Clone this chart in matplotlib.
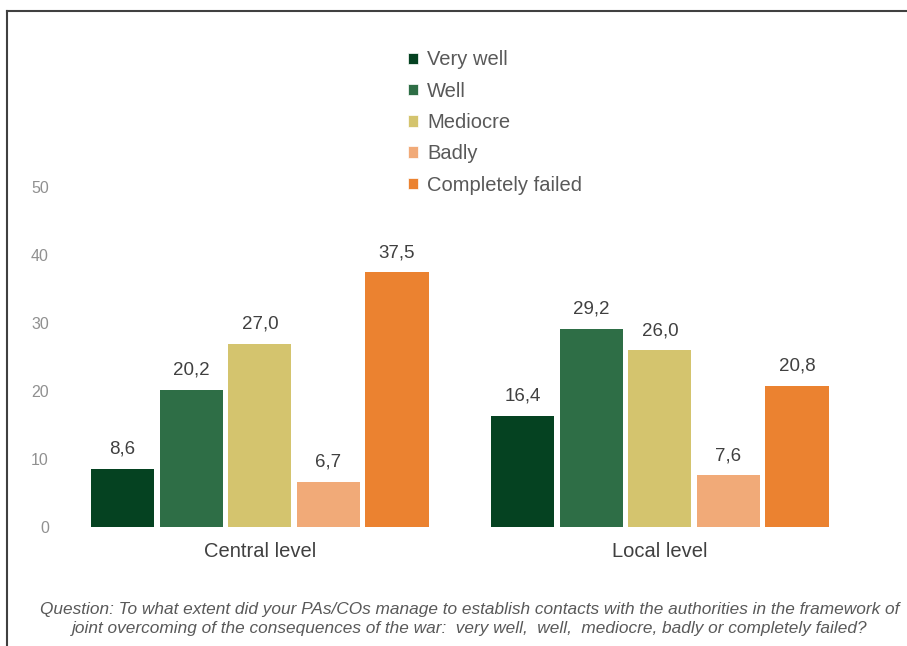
import matplotlib.pyplot as plt
import numpy as np
from matplotlib.patches import Patch
from matplotlib.lines import Line2D

groups = ['Central level', 'Local level']
answers = ['Very well', 'Well', 'Mediocre', 'Badly', 'Completely failed']
values = {
    'Very well': [8.6, 16.4],
    'Well': [20.2, 29.2],
    'Mediocre': [27.0, 26.0],
    'Badly': [6.7, 7.6],
    'Completely failed': [37.5, 20.8],
}
colors = ['#054221', '#2E6E46', '#D4C46E', '#F1AA78', '#EB8230']
yticks = [0, 10, 20, 30, 40, 50]
caption = ('Question: To what extent did your PAs/COs manage to establish contacts with the authorities in the framework of\n'
           'joint overcoming of the consequences of the war:  very well,  well,  mediocre, badly or completely failed?')

plt.rcParams['font.family'] = ['Liberation Sans', 'DejaVu Sans']

fig = plt.figure(figsize=(9.07, 6.46), dpi=100)
ax = fig.add_axes([0.066, 0.184, 0.882, 0.526])

x = np.arange(len(groups))
step = 0.1715
width = 0.158
for i, name in enumerate(answers):
    pos = x + (i - 2) * step
    bars = ax.bar(pos, values[name], width, color=colors[i], label=name)
    for b, v in zip(bars, values[name]):
        ax.text(b.get_x() + b.get_width() / 2, v + 1.6, f'{v:.1f}'.replace('.', ','),
                ha='center', va='bottom', fontsize=13.5, color='#404040')

ax.set_xlim(-0.5, 1.5)
ax.set_ylim(0, 50)
ax.set_yticks(yticks)
ax.set_yticklabels([str(t) for t in yticks], fontsize=11.5, color='#909090')
ax.set_xticks(x)
ax.set_xticklabels(groups, fontsize=14.5, color='#404040')
ax.tick_params(axis='both', length=0)
ax.tick_params(axis='x', pad=11)
ax.tick_params(axis='y', pad=8)
for s in ax.spines.values():
    s.set_visible(False)

handles = [Patch(facecolor=c, edgecolor='white', linewidth=0.5) for c in colors]
fig.legend(handles, answers, loc='upper left', bbox_to_anchor=(0.43, 0.95),
           frameon=False, fontsize=14.5, handlelength=0.5, handleheight=0.5,
           handletextpad=0.45, labelspacing=0.61, labelcolor='#595959')

fig.text(0.5175, 0.016, caption, ha='center', va='bottom', fontsize=12.4,
         style='italic', color='#595959', linespacing=1.3)

# frame lines on top and left
fig.add_artist(Line2D([0.008, 1.0], [0.983, 0.983], color='#404040', lw=1.5, transform=fig.transFigure))
fig.add_artist(Line2D([0.008, 0.008], [0.0, 0.983], color='#404040', lw=1.5, transform=fig.transFigure))

fig.savefig('out.png', dpi=100)
